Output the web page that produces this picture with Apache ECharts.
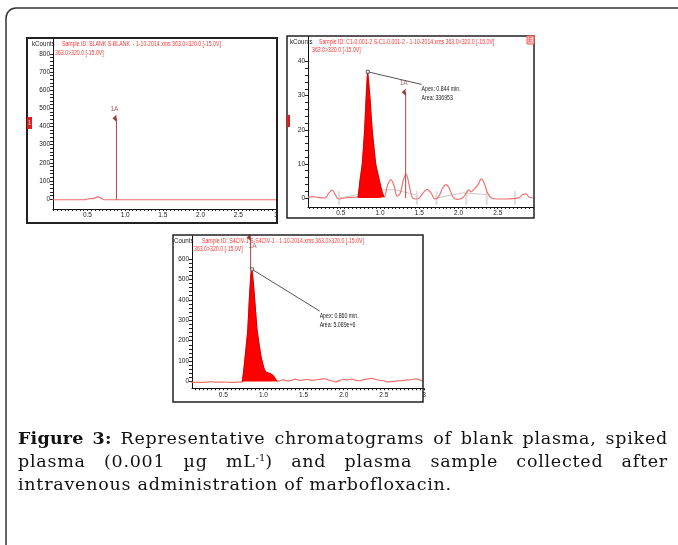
<!DOCTYPE html>
<html lang="en">
<head>
<meta charset="UTF-8">
<title>Figure 3 chromatograms</title>
<script src="https://cdn.jsdelivr.net/npm/echarts@6/dist/echarts.min.js"></script>
<style>
    body { margin: 0; background: #fff; }
    #page { position: relative; width: 678px; height: 545px; overflow: hidden; }
    #fig { position: absolute; left: 0; top: 0; width: 678px; height: 545px; }
    #caption { position: absolute; left: 18px; top: 427px; width: 650px;
        font-family: 'DejaVu Serif', serif; font-size: 17.5px; letter-spacing: 0.75px; line-height: 23px; color: #111; }
    #caption .j { text-align: justify; text-align-last: justify; }
    #caption b { letter-spacing: 0.2px; }
    #caption sup { font-size: 10px; line-height: 0; vertical-align: 6px; letter-spacing: 0; }
</style>
</head>
<body>
<div id="page">
    <div id="fig"></div>
    <div id="caption">
        <div class="j"><b>Figure 3:</b> Representative chromatograms of blank plasma, spiked</div>
        <div class="j">plasma (0.001 µg mL<sup>-1</sup>) and plasma sample collected after</div>
        <div>intravenous administration of marbofloxacin.</div>
    </div>
</div>
<script>
    // blank plasma
    const blankTime = [0.04, 0.46, 0.5, 0.54, 0.57, 0.6, 0.63, 0.66, 0.7, 0.73, 3.01];
    const blankSignal = [-4, -4, 0, 3, 2, 6, 12, 9, 0, -4, -4];

    // spiked plasma (0.001 µg/mL)
    const spikedTime = [0.08, 0.15, 0.2, 0.3, 0.35, 0.39, 0.43, 0.47, 0.55, 0.65,
        0.72, 0.745, 0.775, 0.805, 0.825, 0.843, 0.87, 0.9, 0.945, 0.99,
        1.03, 1.055, 1.1, 1.14, 1.18, 1.22, 1.26, 1.3, 1.335, 1.37,
        1.41, 1.45, 1.5, 1.55, 1.6, 1.65, 1.7, 1.75, 1.8, 1.84,
        1.88, 1.93, 1.98, 2.05, 2.1, 2.13, 2.16, 2.2, 2.25, 2.29,
        2.33, 2.37, 2.42, 2.5, 2.6, 2.7, 2.77, 2.82, 2.86, 2.9, 2.96];
    const spikedSignal = [0.2, 0.4, 0.2, 0, 1.5, 2.3, 1, -0.3, 0, 0.2,
        0.3, 5, 10, 20, 30, 37, 30, 20, 10, 5.3,
        1.5, 0.3, 4, 5.3, 3.5, 0.5, 1.5, 5.5, 6.9, 4,
        0.2, -0.3, 0, 1.5, 2.5, 1.5, -0.3, 0.5, 3, 3.9,
        3, 0.3, -0.4, 0, 1.5, 2.4, 1.8, 2.6, 4, 5.6,
        4.2, 1.5, 0, -0.3, -0.3, -0.2, 0.1, 1, 1.2, 0.2, 0];
    const spikedPeak = [0.72, 1.055];
    const spikedBaseTime = [0.48, 0.72, 1.06, 1.2, 1.47];
    const spikedBaseSignal = [0, 1, 2.4, 2.4, 0.8];
    const spikedBase2Time = [1.72, 2.06, 2.36];
    const spikedBase2Signal = [0, 1.5, 1];
    const spikedCutTime = [0.48, 1.47, 1.72, 2.1, 2.36, 2.72];

    // plasma sample after i.v. dose
    const sampleTime = [0.1, 0.2, 0.3, 0.35, 0.4, 0.5, 0.6, 0.7, 0.735, 0.75,
        0.764, 0.785, 0.805, 0.826, 0.845, 0.855, 0.87, 0.888, 0.92, 0.95,
        0.97, 0.99, 1.01, 1.03, 1.06, 1.09, 1.12, 1.15, 1.17, 1.2,
        1.25, 1.3, 1.35, 1.4, 1.45, 1.5, 1.55, 1.6, 1.65, 1.7,
        1.75, 1.8, 1.85, 1.9, 1.95, 2.0, 2.05, 2.1, 2.15, 2.2,
        2.25, 2.3, 2.35, 2.4, 2.45, 2.5, 2.55, 2.6, 2.65, 2.7,
        2.75, 2.8, 2.85, 2.9, 2.95, 2.98];
    const sampleSignal = [-4, -4, -3, -1, -3, -3, -4, -3, -2, 40,
        89, 170, 252, 415, 530, 549, 500, 415, 252, 170,
        121, 89, 60, 46, 42, 38, 30, 12, 2, 3,
        8, 3, 6, 12, 6, 8, 10, 6, 8, 11,
        14, 9, 4, -2, 6, 10, 8, 12, 6, 4,
        10, 13, 16, 10, 6, 4, -2, 0, 2, 4,
        6, 8, 10, 13, 8, 2];
    const samplePeak = [0.735, 1.17];

    // peak markers (retention time, bottom, top)
    const markerName = '1A';
    const blankMarker = [0.884, -4, 445];
    const spikedMarker = [1.327, 0, 31];
    const sampleMarker = [0.84, 549, 705];

    // apex call-outs
    const spikedApex = [0.844, 37];
    const spikedNote = [1.53, 33.3];
    const spikedNoteText = ['Apex: 0.844 min.', 'Area: 336953'];
    const sampleApex = [0.858, 549];
    const sampleNote = [1.7, 345];
    const sampleNoteText = ['Apex: 0.860 min.', 'Area: 5.089e+6'];

    // tick labels
    const timeLabels = [0.5, 1.0, 1.5, 2.0, 2.5, 3.0];
    const blankCounts = [0, 100, 200, 300, 400, 500, 600, 700, 800];
    const spikedCounts = [0, 10, 20, 30, 40];
    const sampleCounts = [0, 100, 200, 300, 400, 500, 600];

    // header texts
    const headers = [
        ['Sample ID: BLANK S-BLANK  - 1-10-2014.xms 363.0>320.0 [-15.0V]', '363.0>320.0 [-15.0V]', 'kCounts'],
        ['Sample ID: C1-0.001-2 S-C1-0.001-2 - 1-10-2014.xms 363.0>320.0 [-15.0V]', '363.0>320.0 [-15.0V]', 'kCounts'],
        ['Sample ID: S4CIV-1 S-S4CIV-1 - 1-10-2014.xms 363.0>320.0 [-15.0V]', '363.0>320.0 [-15.0V]', 'Counts']
    ];

    const SANS = "'Liberation Sans', Arial, sans-serif";
    const TRACE = '#f27070';

    function pairs(t, v) { return t.map((x, i) => [x, v[i]]); }
    function inRange(t, v, r) { return pairs(t, v).filter(p => p[0] >= r[0] && p[0] <= r[1]); }
    function steps(from, to, step) {
        let out = [];
        for (let v = from; v <= to + 1e-9; v += step) out.push(+v.toFixed(3));
        return out;
    }
    // squeezed small text, like the instrument software prints it
    function smallText(x, y, text, color, extra) {
        return Object.assign({type: 'text', x: x, y: y, scaleX: 0.8, z: 101,
            style: {text: text, fill: color, fontSize: 6.5, fontFamily: SANS,
                textVerticalAlign: 'middle', verticalAlign: 'middle'}}, extra || {});
    }

    // layout of the three panels
    const panels = [
        {grid: {left: 53, top: 38, width: 224, height: 171}, x: [0.043, 3.013], y: [-55, 888], counts: blankCounts, minor: 20},
        {grid: {left: 308, top: 37, width: 226, height: 170}, x: [0.083, 2.962], y: [-2.64, 47.2], counts: spikedCounts, minor: 2},
        {grid: {left: 192, top: 236, width: 232, height: 152.3}, x: [0.11, 3.0], y: [-33, 712], counts: sampleCounts, minor: 20}
    ];

    let grids = [], xAxes = [], yAxes = [];
    panels.forEach(function (p) {
        grids.push(Object.assign({outerBoundsMode: 'none', containLabel: false}, p.grid));
        xAxes.push({
            type: 'value', gridIndex: grids.length - 1, min: p.x[0], max: p.x[1],
            axisLine: {onZero: false, lineStyle: {color: '#111', width: 1}},
            axisTick: {customValues: steps(0.05, 3.0, 0.05).filter(v => v >= p.x[0] && v <= p.x[1]),
                length: 2, lineStyle: {color: '#222'}},
            axisLabel: {customValues: timeLabels, formatter: v => (v === 3 ? '3' : v.toFixed(1)),
                fontSize: 6.5, fontFamily: SANS, color: '#222', margin: 3},
            splitLine: {show: false}
        });
        yAxes.push({
            type: 'value', gridIndex: grids.length - 1, min: p.y[0], max: p.y[1],
            axisLine: {show: true, onZero: false, lineStyle: {color: '#111', width: 1}},
            axisTick: {customValues: steps(0, p.counts[p.counts.length - 1], p.minor),
                length: 3, lineStyle: {color: '#222'}},
            axisLabel: {customValues: p.counts, fontSize: 6.5, fontFamily: SANS, color: '#222', margin: 3},
            splitLine: {show: false}
        });
    });

    function trace(i, data) {
        return {type: 'line', xAxisIndex: i, yAxisIndex: i, data: data, smooth: 0.35, symbol: 'none',
            lineStyle: {color: TRACE, width: 1.2}, z: 3};
    }
    function peakFill(i, data) {
        return {type: 'line', xAxisIndex: i, yAxisIndex: i, data: data, symbol: 'none',
            lineStyle: {color: '#d40000', width: 1}, areaStyle: {color: '#ff0000', opacity: 1}, z: 4};
    }
    function marker(i, m, labelPos, labelOffset) {
        return [
            {type: 'line', xAxisIndex: i, yAxisIndex: i, data: [[m[0], m[1]], [m[0], m[2]]], symbol: 'none',
                lineStyle: {color: '#b04545', width: 1}, z: 5},
            {type: 'scatter', xAxisIndex: i, yAxisIndex: i, data: [[m[0], m[2]]],
                symbol: 'triangle', symbolSize: [7, 4], symbolRotate: 90, symbolOffset: [-2, 0],
                itemStyle: {color: '#7a1212'}, z: 6,
                label: {show: true, formatter: markerName, position: labelPos, offset: labelOffset, distance: 2,
                    fontSize: 6.5, fontFamily: SANS, color: '#9b3535'}}
        ];
    }
    function callout(i, apex, note) {
        return [
            {type: 'line', xAxisIndex: i, yAxisIndex: i, data: [apex, note], symbol: 'none',
                lineStyle: {color: '#555', width: 1}, z: 7},
            {type: 'scatter', xAxisIndex: i, yAxisIndex: i, data: [apex], symbol: 'rect', symbolSize: 3,
                itemStyle: {color: '#fff', borderColor: '#444', borderWidth: 1}, z: 8}
        ];
    }

    let cuts = [];
    spikedCutTime.forEach(t => { cuts.push([t, -2], [t, 2], [t, '-']); });

    let series = [
        trace(0, pairs(blankTime, blankSignal)),
        ...marker(0, blankMarker, 'top', [0, 0]),

        {type: 'line', xAxisIndex: 1, yAxisIndex: 1, data: pairs(spikedBaseTime, spikedBaseSignal), symbol: 'none',
            lineStyle: {color: '#c8c8c8', width: 1}, z: 2},
        {type: 'line', xAxisIndex: 1, yAxisIndex: 1, data: pairs(spikedBase2Time, spikedBase2Signal), symbol: 'none',
            lineStyle: {color: '#c8c8c8', width: 1}, z: 2},
        {type: 'line', xAxisIndex: 1, yAxisIndex: 1, data: cuts, symbol: 'none', connectNulls: false,
            lineStyle: {color: '#dcdcdc', width: 2}, z: 2},
        trace(1, pairs(spikedTime, spikedSignal)),
        peakFill(1, inRange(spikedTime, spikedSignal, spikedPeak)),
        ...marker(1, spikedMarker, 'top', [0, 0]),
        ...callout(1, spikedApex, spikedNote),

        trace(2, pairs(sampleTime, sampleSignal)),
        peakFill(2, inRange(sampleTime, sampleSignal, samplePeak)),
        ...marker(2, sampleMarker, 'bottom', [4, 0]),
        ...callout(2, sampleApex, sampleNote)
    ];

    // frames, headers and tags
    const boxes = [[27, 38, 250, 185, 2], [287, 36, 247, 182, 1.5], [173, 235, 250, 167, 1.5]];
    const headerPos = [[62, 44, 55, 53, 32, 44], [319, 42, 312, 50, 290, 42], [202, 241, 194, 249.5, 174, 241]];
    let elements = [
        {type: 'rect', shape: {x: 6, y: 8, width: 700, height: 560, r: 10}, z: 100,
            style: {fill: 'none', stroke: '#333', lineWidth: 1.5}}
    ];
    boxes.forEach(function (b, i) {
        elements.push({type: 'rect', shape: {x: b[0], y: b[1], width: b[2], height: b[3]}, z: 100,
            style: {fill: 'none', stroke: '#222', lineWidth: b[4]}});
        let h = headerPos[i];
        elements.push(smallText(h[0], h[1], headers[i][0], '#ff3636'));
        elements.push(smallText(h[2], h[3], headers[i][1], '#ff3636'));
        elements.push(smallText(h[4], h[5], headers[i][2], '#222', {scaleX: 0.95}));
    });
    elements.push({type: 'rect', shape: {x: 27, y: 117, width: 5, height: 12}, z: 101, style: {fill: '#e41b1b'}});
    elements.push(smallText(28.3, 123, '1', '#fff', {z: 102}));
    elements.push({type: 'rect', shape: {x: 287, y: 115, width: 3, height: 12}, z: 101, style: {fill: '#e41b1b'}});
    elements.push({type: 'rect', shape: {x: 527, y: 36, width: 7, height: 8}, z: 101,
        style: {fill: '#ffc4c4', stroke: '#ff5a5a', lineWidth: 1}});
    elements.push(smallText(528.5, 40, 'E', '#ff3a3a', {z: 102}));

    let fig = echarts.init(document.getElementById('fig'), null, {renderer: 'canvas'});
    fig.setOption({
        animation: false,
        backgroundColor: 'transparent',
        grid: grids,
        xAxis: xAxes,
        yAxis: yAxes,
        series: series
    });

    // apex / area texts hang below the end of each call-out line
    [[1, spikedNote, spikedNoteText], [2, sampleNote, sampleNoteText]].forEach(function (n) {
        let p = fig.convertToPixel({gridIndex: n[0]}, n[1]);
        elements.push(smallText(p[0], p[1] + 1, n[2].join('\n'), '#222',
            {style: {text: n[2].join('\n'), fill: '#222', fontSize: 6.5, fontFamily: SANS, lineHeight: 8.5,
                textVerticalAlign: 'top', verticalAlign: 'top'}}));
    });
    fig.setOption({graphic: {elements: elements}});
</script>
</body>
</html>
